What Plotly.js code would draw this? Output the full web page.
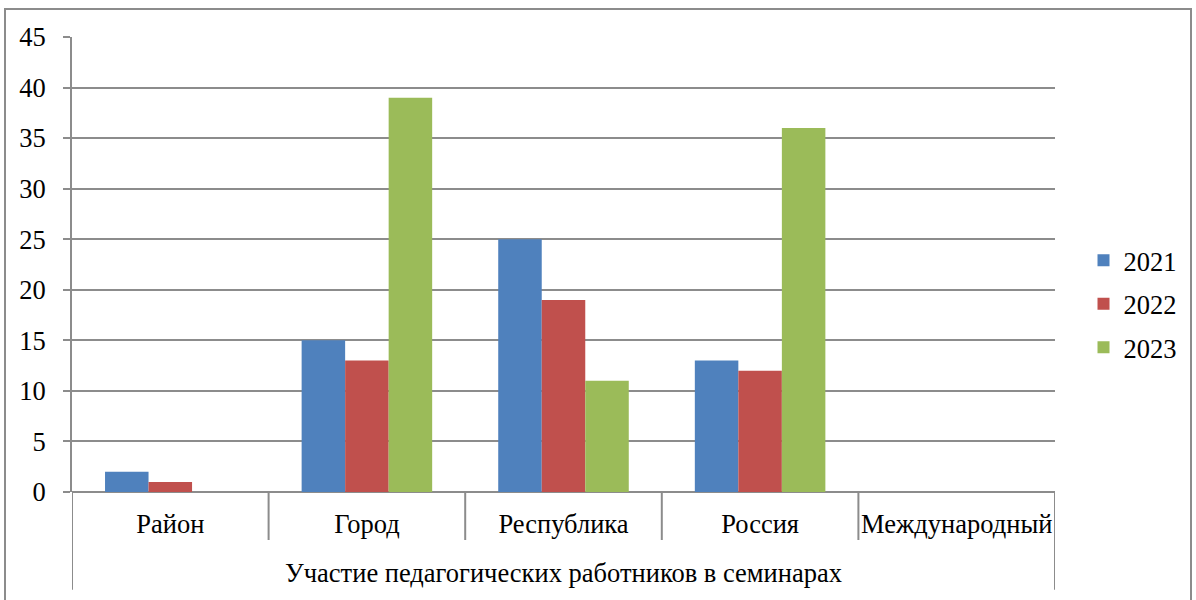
<!DOCTYPE html>
<html><head><meta charset="utf-8">
<script src="https://cdn.plot.ly/plotly-3.0.1.min.js"></script>
<style>
html,body{margin:0;padding:0;overflow:hidden;background:#fff;width:1196px;height:600px;}
#chart{position:absolute;left:6px;top:10px;width:1190px;height:590px;}
#frame{position:absolute;left:4px;top:8px;width:1184px;height:600px;border:2px solid #8c8c8c;pointer-events:none;}
</style></head>
<body><div id="chart"></div><div id="frame"></div>
<script>
const categories = ["Район", "Город", "Республика", "Россия", "Международный"];
const seriesNames = ["2021", "2022", "2023"];
const v2021 = [2, 15, 25, 13, 0];
const v2022 = [1, 13, 19, 12, 0];
const v2023 = [0, 39, 11, 36, 0];
const groupLabel = "Участие педагогических работников в семинарах";
const colors = ["#4F81BD", "#C0504D", "#9BBB59"];
const values = [v2021, v2022, v2023];

const FONT = "Liberation Serif";
const FS = 26.5;
const traces = values.map((v, i) => ({
  type: "bar", x: categories, y: v, name: seriesNames[i],
  marker: {color: colors[i], line: {width: 0}},
  legendgroup: "g" + i, hoverinfo: "skip"
}));

const grey = "#8c8c8c";
const shapes = [];
for (let i = 0; i <= categories.length; i++) {
  const outer = (i === 0 || i === categories.length);
  shapes.push({type: "line", xref: "x", yref: "paper", x0: i - 0.5, x1: i - 0.5,
    y0: 0, y1: outer ? -0.215 : -0.1055, line: {color: grey, width: 2}});
}

const layout = {
  width: 1190, height: 590,
  margin: {l: 66, r: 141, t: 27, b: 108},
  paper_bgcolor: "rgba(0,0,0,0)", plot_bgcolor: "#fff",
  font: {family: FONT, size: FS, color: "#000"},
  barmode: "group", bargap: 0.336, bargroupgap: 0,
  showlegend: true,
  legend: {x: 1.029, y: 0.413, yanchor: "middle", xanchor: "left",
    font: {family: FONT, size: FS, color: "#000"}, tracegroupgap: 6,
    traceorder: "grouped", itemwidth: 30, bgcolor: "rgba(0,0,0,0)"},
  xaxis: {type: "category", range: [-0.5, categories.length - 0.5],
    showgrid: false, zeroline: false, showline: false, ticks: "",
    tickfont: {family: FONT, size: FS, color: "#000"}, ticklabelstandoff: 13,
    fixedrange: true},
  yaxis: {range: [0, 45], dtick: 5, tick0: 0, showgrid: true, gridcolor: grey, gridwidth: 2,
    zeroline: true, zerolinecolor: grey, zerolinewidth: 2,
    showline: true, linecolor: grey, linewidth: 2,
    ticks: "outside", ticklen: 7, tickcolor: grey, tickwidth: 2,
    tickfont: {family: FONT, size: FS, color: "#000"}, ticklabelstandoff: 12,
    fixedrange: true},
  shapes: shapes,
  annotations: [{text: groupLabel, xref: "paper", yref: "paper", x: 0.5, y: -0.178,
    xanchor: "center", yanchor: "middle", showarrow: false,
    font: {family: FONT, size: FS, color: "#000"}}]
};
Plotly.newPlot("chart", traces, layout, {displayModeBar: false, staticPlot: true});
</script></body></html>
